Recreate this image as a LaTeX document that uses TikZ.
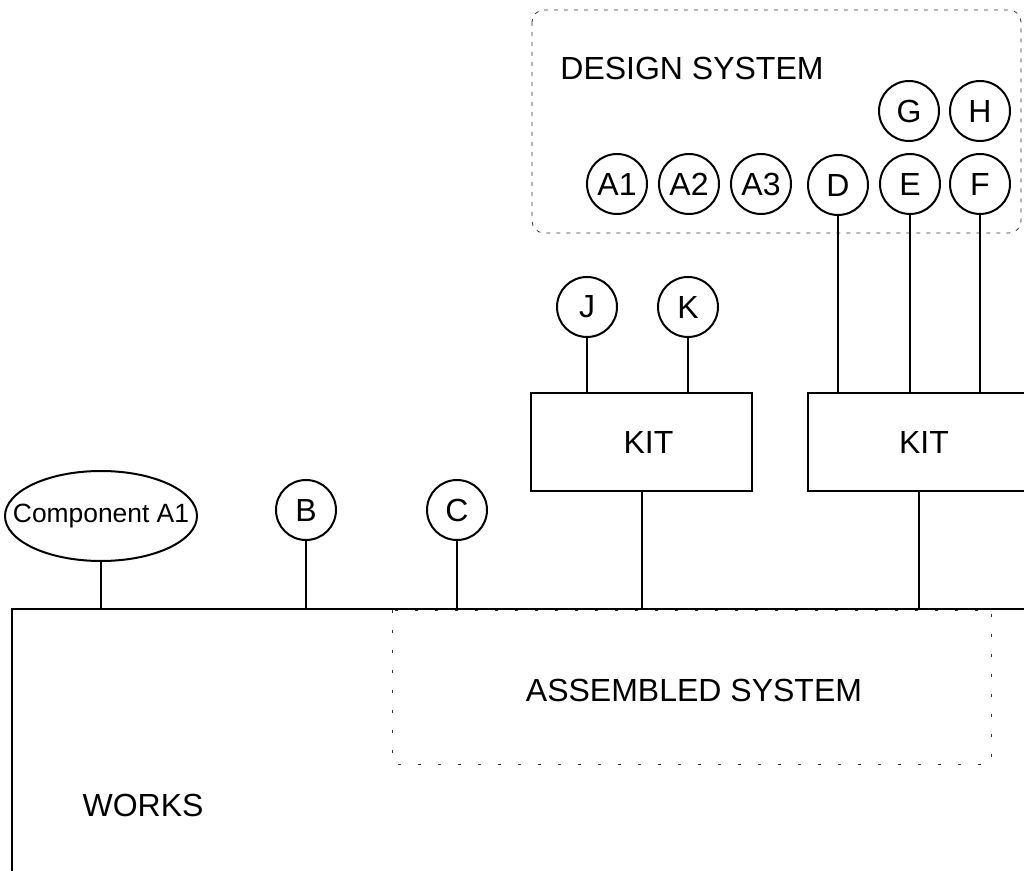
\documentclass[tikz,border=0pt]{standalone}
\usepackage{fontspec}
\setmainfont{Liberation Sans}
\usetikzlibrary{shapes.geometric}

\tikzset{
  part/.style={draw, circle, line width=1pt, minimum size=30pt, inner sep=0pt},
  kitbox/.style={draw, line width=1pt, minimum width=110.5pt, minimum height=49pt},
  link/.style={line width=1pt},
  zone/.style={draw=black!80, line width=0.4pt},
}

\begin{document}
\begin{tikzpicture}[x=0.5pt, y=-0.5pt, font=\fontsize{16}{19}\selectfont]
  \useasboundingbox (0,0) rectangle (1024,871);

  % Система проектирования
  \draw[zone, dash pattern=on 2pt off 3pt, rounded corners=6pt]
    (532,10) rectangle (1021,233);
  \node[anchor=base west, inner sep=0pt] (dstitle) at (560,80) {DESIGN SYSTEM};

  % Детали в системе проектирования
  \node[part] (A1) at (617,184) {A1};
  \node[part] (A2) at (689,184) {A2};
  \node[part] (A3) at (761,184) {A3};
  \node[part] (D) at (838,185) {D};
  \node[part] (E) at (910,184) {E};
  \node[part] (F) at (980,184) {F};
  \node[part] (G) at (909,111) {G};
  \node[part] (H) at (980,111) {H};

  % Комплекты
  \node[kitbox] (kit1) at (641.5,442) {\hspace*{7pt}KIT};
  \node[kitbox] (kit2) at (918.5,442) {\hspace*{5.5pt}KIT};
  \node[part] (J) at (587,307) {J};
  \node[part] (K) at (688,307) {K};

  % Отдельные детали
  \node[draw, ellipse, line width=1pt, minimum width=96pt, minimum height=45pt] (compA1) at (101,516) {};
  \node[font=\fontsize{13.2}{16}\selectfont] (compA1text) at (compA1) {Component A1};
  \node[part] (B) at (306,510) {B};
  \node[part] (C) at (457,510) {C};

  % Завод
  \node[draw, line width=1pt, anchor=north west, minimum width=520pt, minimum height=150pt]
    (works) at (11,608) {};
  \node (workstitle) at (143,805) {WORKS};

  % Собранная система
  \draw[zone, dash pattern=on 1.5pt off 8.5pt]
    (392,610) rectangle (991,764);
  \node (astitle) at (694,690) {ASSEMBLED SYSTEM};

  % Связи
  \foreach \p in {D,E,F}
    \draw[link] (\p.south) -- (\p.south |- kit2.north);
  \foreach \p in {J,K}
    \draw[link] (\p.south) -- (\p.south |- kit1.north);
  \foreach \p in {compA1,B,C,kit1,kit2}
    \draw[link] (\p.south) -- (\p.south |- works.north);
\end{tikzpicture}
\end{document}
